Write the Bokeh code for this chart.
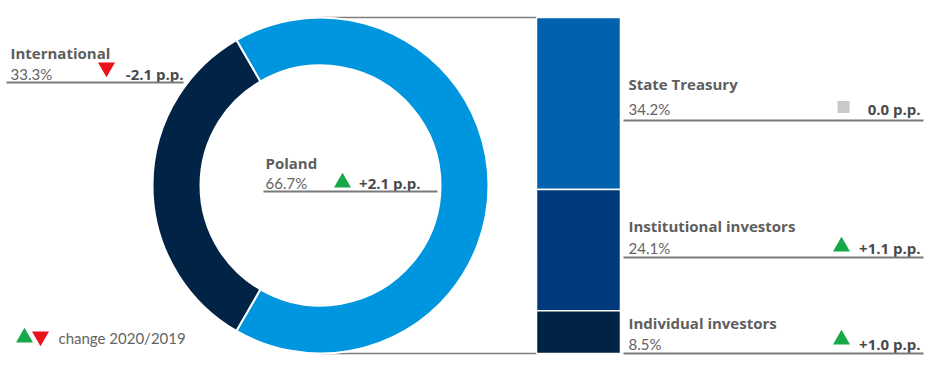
import numpy as np
from bokeh.plotting import figure
from bokeh.models import Range1d
from bokeh.core.properties import value
from bokeh.embed import file_html
from bokeh.resources import INLINE

# ---- data ----
donut_labels = ["Poland", "International"]
donut_values = [66.7, 33.3]
donut_changes = ["+2.1 p.p.", "-2.1 p.p."]
donut_dirs = ["up", "down"]

bar_labels = ["State Treasury", "Institutional investors", "Individual investors"]
bar_values = [34.2, 24.1, 8.5]
bar_changes = ["0.0 p.p.", "+1.1 p.p.", "+1.0 p.p."]
bar_dirs = ["flat", "up", "up"]

legend_text = "change 2020/2019"

# ---- styles ----
BOLD_FONT = "Open Sans"
REG_FONT = "Lato"
W, H = 930, 364
LIGHT = "#0096df"
NAVY = "#002346"
BAR_COLORS = ["#0062ae", "#003a7c", "#002346"]
TITLE_C = "#5e5e5e"
PCT_C = "#646464"
PP_C = "#4a4a4a"
RULE_C = "#7a7a7a"
GREEN = "#17a84a"
RED = "#e8141b"
TEXT_SHIFT = 5

def X(ix):
    return ix

def Y(iy):
    return H - iy

def TY(iy):
    return Y(iy - TEXT_SHIFT)

p = figure(width=W, height=H, output_backend="svg", toolbar_location=None,
           x_range=Range1d(0, W), y_range=Range1d(0, H),
           min_border=0, min_border_left=0, min_border_right=0,
           min_border_top=0, min_border_bottom=0)
p.axis.visible = False
p.grid.visible = False
p.outline_line_color = None
p.background_fill_color = "white"

# ---- connector lines ----
cx, cy, R_out, R_in = X(320), Y(185), 168, 120
p.line([cx, X(536)], [Y(17), Y(17)], line_color="#7d7d7d", line_width=1.5)
p.line([cx, X(536)], [Y(353), Y(353)], line_color="#7d7d7d", line_width=1.5)

# ---- donut ----
vals = np.array(donut_values)
fr = vals / vals.sum() * 2 * np.pi
intl_start = np.pi - fr[1] / 2
starts = [intl_start + fr[1], intl_start]
ends = [intl_start + fr[1] + fr[0], intl_start + fr[1]]
p.annular_wedge(x=[cx, cx], y=[cy, cy], inner_radius=R_in, outer_radius=R_out,
                start_angle=starts, end_angle=ends,
                fill_color=[LIGHT, NAVY], line_color="white", line_width=2)

# ---- stacked bar ----
total = sum(bar_values)
k = total / 336.0
p.extra_y_ranges = {"bar": Range1d(-Y(353) * k, (H - Y(353)) * k)}
tops = np.cumsum(bar_values[::-1])[::-1]
bottoms = tops - np.array(bar_values)
p.quad(left=X(536), right=X(620), bottom=bottoms, top=tops,
       fill_color=BAR_COLORS, line_color="white", line_width=1.5, y_range_name="bar")

# ---- label helper ----
def label_block(x0, x1, title_base, pct_base, title, pct, change, direction, tri_x, tri_y):
    p.text(x=[X(x0)], y=[TY(title_base)], text=[title], text_font=value(BOLD_FONT),
           text_font_size="15px", text_font_style="bold", text_color=TITLE_C,
           text_baseline="alphabetic")
    p.text(x=[X(x0)], y=[TY(pct_base)], text=[pct], text_font=value(REG_FONT),
           text_font_size="15px", text_color=PCT_C, text_baseline="alphabetic")
    p.text(x=[X(x1)], y=[TY(pct_base)], text=[change], text_font=value(BOLD_FONT),
           text_font_size="15px", text_font_style="bold", text_color=PP_C,
           text_baseline="alphabetic", text_align="right")
    if direction == "up":
        p.scatter([X(tri_x)], [Y(tri_y)], marker="triangle", size=17, fill_color=GREEN, line_color=None)
    elif direction == "down":
        p.scatter([X(tri_x)], [Y(tri_y)], marker="inverted_triangle", size=17, fill_color=RED, line_color=None)
    else:
        p.scatter([X(tri_x)], [Y(tri_y)], marker="square", size=12, fill_color="#c9c9c9", line_color=None)

# International
label_block(10, 183, 57, 78, donut_labels[1], f"{donut_values[1]}%", donut_changes[1], donut_dirs[1], 106, 67)
p.line([X(6), X(183)], [Y(82), Y(82)], line_color=RULE_C, line_width=2)
# Poland
label_block(265, 420, 167, 187, donut_labels[0], f"{donut_values[0]}%", donut_changes[0], donut_dirs[0], 342, 182)
p.line([X(263), X(437)], [Y(191), Y(191)], line_color=RULE_C, line_width=2)

# Bars
bar_pos = [(88, 113, 120, 106.5), (230, 252, 257, 246), (327, 348, 353, 339)]
tri_xs = [843, 841, 841]
for (tb, pb, ry, tyy), lab, v, ch, d, tx in zip(bar_pos, bar_labels, bar_values, bar_changes, bar_dirs, tri_xs):
    label_block(628, 920, tb, pb, lab, f"{v}%", ch, d, tx, tyy)
    p.line([X(623), X(923)], [Y(ry), Y(ry)], line_color=RULE_C, line_width=2)

# Legend
p.scatter([X(24)], [Y(337)], marker="triangle", size=17, fill_color=GREEN, line_color=None)
p.scatter([X(40)], [Y(336)], marker="inverted_triangle", size=17, fill_color=RED, line_color=None)
p.text(x=[X(58)], y=[TY(342)], text=[legend_text], text_font=value(REG_FONT),
       text_font_size="15px", text_color=PCT_C, text_baseline="alphabetic")

open("out.html", "w").write(file_html(p, INLINE))
